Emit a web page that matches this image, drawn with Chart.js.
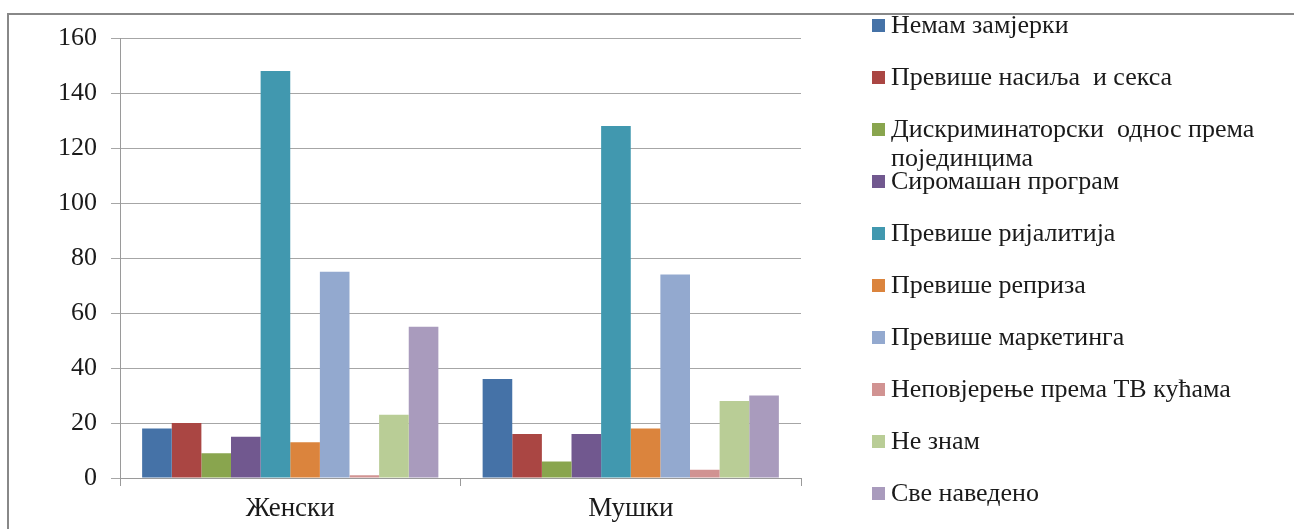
<!DOCTYPE html>
<html>
<head>
<meta charset="utf-8">
<script src="https://cdn.jsdelivr.net/npm/chart.js@4/dist/chart.umd.min.js"></script>
<style>
  html, body { margin: 0; padding: 0; background: #fff; overflow: hidden; }
  #wrap { position: relative; width: 1294px; height: 529px; }
  #frame { position: absolute; left: 7px; top: 13px; width: 1400px; height: 600px; border: 2px solid #888; }
  #myChart { position: absolute; left: 0; top: 0; }
</style>
</head>
<body>
<div id="wrap">
  <div id="frame"></div>
  <canvas id="myChart" width="1294" height="529"></canvas>
</div>
<script>
'use strict';

const categories = ['Женски', 'Мушки'];
const seriesNames = [
  'Немам замјерки',
  'Превише насиља  и секса',
  ['Дискриминаторски  однос према', 'појединцима'],
  'Сиромашан програм',
  'Превише ријалитија',
  'Превише реприза',
  'Превише маркетинга',
  'Неповјерење према ТВ кућама',
  'Не знам',
  'Све наведено'
];
const femaleValues = [18, 20, 9, 15, 148, 13, 75, 1, 23, 55];
const maleValues = [36, 16, 6, 16, 128, 18, 74, 3, 28, 30];
const yTicks = [0, 20, 40, 60, 80, 100, 120, 140, 160];
const seriesColors = ['#4572A7', '#AA4643', '#89A54E', '#71588F', '#4198AF', '#DB843D', '#93A9CF', '#D19392', '#B9CD96', '#A99BBD'];

const fontFamily = '"Liberation Serif", "Times New Roman", serif';

function buildDatasets() {
  const datasets = [];
  for (let i = 0; i < seriesNames.length; i++) {
    datasets.push({
      label: seriesNames[i],
      data: [femaleValues[i], maleValues[i]],
      backgroundColor: seriesColors[i],
      borderWidth: 0,
      barPercentage: 1,
      categoryPercentage: 0.87
    });
  }
  return datasets;
}

// legend on the right, drawn by hand so the wrapped item overlaps like the original
const sideLegend = {
  id: 'sideLegend',
  afterDraw(chart) {
    const ctx = chart.ctx;
    ctx.save();
    ctx.font = '26px ' + fontFamily;
    ctx.textBaseline = 'middle';
    chart.data.datasets.forEach((ds, i) => {
      const y = 25 + i * 52;
      ctx.fillStyle = ds.backgroundColor;
      ctx.fillRect(872, y - 6, 13, 13);
      ctx.fillStyle = '#1a1a1a';
      const lines = Array.isArray(ds.label) ? ds.label : [ds.label];
      lines.forEach((line, j) => {
        ctx.fillText(line, 891, y + 1 + j * 29);
      });
    });
    ctx.restore();
  }
};

const config = {
  type: 'bar',
  data: {
    labels: categories,
    datasets: buildDatasets()
  },
  options: {
    responsive: false,
    animation: false,
    layout: {
      padding: { left: 0, right: 493, top: 38, bottom: 0 }
    },
    plugins: {
      legend: { display: false },
      tooltip: { enabled: false }
    },
    scales: {
      x: {
        grid: {
          drawOnChartArea: false,
          color: '#9a9a9a',
          tickLength: 8,
          offset: true
        },
        border: { color: '#9a9a9a', width: 1 },
        ticks: {
          color: '#1a1a1a',
          font: { family: fontFamily, size: 27 },
          padding: 7
        },
        afterFit(scale) { scale.height = 51; }
      },
      y: {
        min: 0,
        max: 160,
        afterBuildTicks(scale) {
          scale.ticks = yTicks.map(v => ({ value: v }));
        },
        grid: {
          color: '#a6a6a6',
          tickLength: 9
        },
        border: { color: '#9a9a9a', width: 1 },
        ticks: {
          color: '#1a1a1a',
          font: { family: fontFamily, size: 26 },
          padding: 14
        },
        afterFit(scale) { scale.width = 120; }
      }
    }
  },
  plugins: [sideLegend]
};

new Chart(document.getElementById('myChart'), config);
</script>
</body>
</html>
